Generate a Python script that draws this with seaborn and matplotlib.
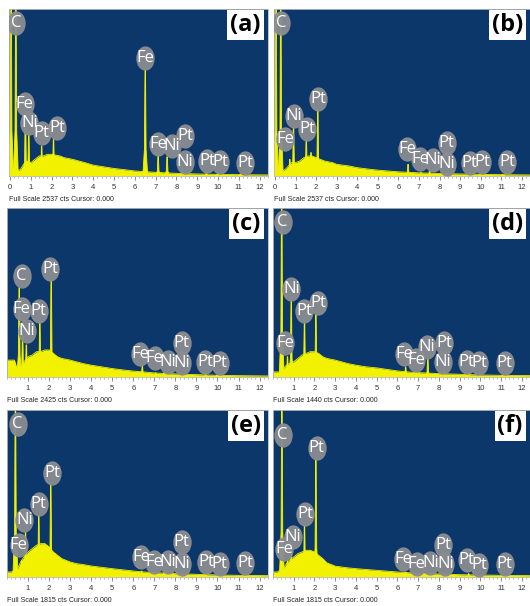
import numpy as np
import pandas as pd
import matplotlib
matplotlib.use("Agg")
import matplotlib.pyplot as plt
import seaborn as sns
from matplotlib.path import Path

# background continuum sampled along the energy axis (keV), % of full scale
bg_kev = [0.0, 0.2, 0.35, 0.5, 0.65, 0.8, 1.0, 1.2, 1.4, 1.6, 1.8, 2.0, 2.2, 2.4, 2.6,
          2.8, 3.0, 3.3, 3.6, 4.0, 4.5, 5.0, 5.5, 6.0, 6.5, 7.0, 8.0, 9.0, 10.0, 11.0, 12.5]
a_bg = [2, 3, 3, 4, 7, 9, 8, 10, 12, 12, 13, 13, 12.5, 12, 11, 10.5, 10, 9, 8, 6.5, 5.5,
        4.5, 3.8, 3, 2.6, 2.2, 1.6, 1.2, 1.0, 0.8, 0.6]
b_bg = [2, 3, 3, 4, 6, 8, 8, 9, 11, 12, 12, 11, 10, 9, 8.5, 8, 7, 6.5, 6, 5, 4.2,
        3.5, 3, 2.5, 2.2, 1.9, 1.5, 1.2, 1.0, 0.8, 0.6]
c_bg = [10, 10, 10, 4, 6, 9, 12, 13, 15, 15, 16, 16, 14, 12, 11, 10.5, 10, 9, 8, 7, 6,
        5, 4.2, 3.5, 3, 2.4, 1.8, 1.4, 1.0, 0.8, 0.6]
d_bg = [3, 3, 3, 5, 7, 8, 9, 11, 13, 14, 15, 15, 14, 12, 11, 10.5, 10, 9, 8, 7, 6,
        5.4, 4.5, 3.6, 3, 2.6, 2, 1.6, 1.2, 1.0, 0.8]
e_bg = [3, 3, 4, 5, 9, 12, 15, 17, 19, 20, 20, 18, 15, 13, 11, 10, 9, 8, 7.5, 6.6, 5.8,
        5, 4.3, 3.6, 3, 2.6, 2, 1.6, 1.2, 1.0, 0.8]
f_bg = [3, 3, 4, 5, 8, 10, 12, 14, 15, 16, 16, 15, 13, 11, 8.5, 7.5, 6.5, 6, 5.5, 5, 4.5,
        4, 3.5, 3, 2.6, 2.2, 1.8, 1.4, 1.2, 1.0, 0.8]

# peaks: energy (keV) and height (% of full scale)
a_pk_kev = [0.05, 0.28, 0.74, 0.90, 1.52, 2.09, 6.50, 7.12, 7.55, 8.30, 9.44, 9.98, 11.07]
a_pk = [110, 110, 37, 27, 18, 22, 64, 12, 11.5, 3, 2, 1.5, 1.2]
b_pk_kev = [0.05, 0.28, 0.72, 0.90, 1.52, 1.75, 2.08, 6.47, 7.10, 7.52, 8.30, 9.44, 9.98, 11.07]
b_pk = [110, 110, 10, 29, 22, 14, 40, 7, 2, 3.5, 1.5, 1.5, 1.2, 1]
c_pk_kev = [0.58, 0.74, 0.92, 1.56, 2.10, 6.43, 7.06, 7.47, 8.26, 9.44, 9.98]
c_pk = [53, 25, 19, 33, 57, 6.5, 2.5, 3, 1.8, 1.5, 1.2]
d_pk_kev = [0.42, 0.70, 0.88, 1.52, 2.07, 6.40, 7.06, 7.47, 8.26, 9.44, 9.98, 11.07]
d_pk = [110, 12, 45, 33, 37, 6, 2.2, 11, 3.5, 1.6, 1.2, 1]
e_pk_kev = [0.40, 0.70, 0.88, 1.51, 2.08, 6.40, 7.47, 9.44]
e_pk = [110, 10, 27, 37, 56, 3.5, 3, 1.5]
f_pk_kev = [0.43, 0.70, 0.88, 1.52, 2.07, 6.40, 7.47, 9.44]
f_pk = [110, 10, 15, 31, 70, 3, 2, 2]

# element tags: name, energy, height of tag centre (% of full scale)
a_tags = [("C", 0.28, 91.5), ("Fe", 0.70, 43), ("Ni", 0.93, 32), ("Pt", 1.52, 26),
          ("Pt", 2.25, 29), ("Fe", 6.50, 70.5), ("Fe", 7.13, 19), ("Ni", 7.78, 18),
          ("Pt", 8.42, 24), ("Ni", 8.40, 8.5), ("Pt", 9.46, 9), ("Pt", 10.1, 8.5),
          ("Pt", 11.3, 8)]
b_tags = [("C", 0.28, 91.5), ("Fe", 0.50, 22), ("Ni", 0.93, 36), ("Pt", 1.55, 28),
          ("Pt", 2.09, 46), ("Fe", 6.43, 16), ("Fe", 7.05, 10), ("Ni", 7.67, 9.5),
          ("Pt", 8.34, 20), ("Ni", 8.37, 7), ("Pt", 9.46, 8), ("Pt", 10.08, 8.3),
          ("Pt", 11.3, 8.5)]
c_tags = [("C", 0.69, 60), ("Fe", 0.69, 40), ("Ni", 0.93, 27), ("Pt", 1.51, 39),
          ("Pt", 2.05, 64), ("Fe", 6.33, 13.5), ("Fe", 7.02, 11), ("Ni", 7.64, 9),
          ("Ni", 8.30, 8), ("Pt", 8.30, 20), ("Pt", 9.41, 9), ("Pt", 10.1, 8.5)]
d_tags = [("C", 0.47, 91.5), ("Ni", 0.88, 52), ("Pt", 1.49, 39), ("Pt", 2.17, 44),
          ("Fe", 0.57, 20), ("Fe", 6.34, 13.5), ("Fe", 6.90, 10), ("Ni", 7.43, 18),
          ("Pt", 8.27, 20), ("Ni", 8.19, 9), ("Pt", 9.34, 9), ("Pt", 9.95, 8.5),
          ("Pt", 11.17, 8)]
e_tags = [("C", 0.50, 91.5), ("Ni", 0.82, 34), ("Fe", 0.55, 19), ("Pt", 1.51, 44),
          ("Pt", 2.13, 62), ("Fe", 6.37, 12), ("Fe", 6.99, 9), ("Ni", 7.65, 9),
          ("Ni", 8.30, 7.6), ("Pt", 8.30, 21), ("Pt", 9.46, 9), ("Pt", 10.1, 8),
          ("Pt", 11.3, 8.5)]
f_tags = [("C", 0.47, 85), ("Pt", 2.10, 77), ("Pt", 1.56, 38), ("Ni", 0.95, 24),
          ("Fe", 0.54, 16.5), ("Fe", 6.29, 11), ("Fe", 6.93, 8), ("Ni", 7.59, 8.4),
          ("Pt", 8.20, 19), ("Ni", 8.32, 8), ("Pt", 9.34, 10), ("Pt", 9.95, 7),
          ("Pt", 11.17, 8)]

full_scale = [2537, 2537, 2425, 1440, 1815, 1815]
panel_names = ["(a)", "(b)", "(c)", "(d)", "(e)", "(f)"]

sns.set_theme(style="white")
plt.rcParams["font.family"] = ["Open Sans", "DejaVu Sans"]

BG = "#0b376b"
YEL = "#f2f200"

W, H = 530, 606
fig = plt.figure(figsize=(W / 100, H / 100), dpi=100)

# axes boxes in pixels: x0, x1, y0, y1 and energy limits
boxes = [
    (9, 268, 9, 176, -0.05, 11.97),
    (274, 530, 9, 176, -0.05, 11.83),
    (7, 268, 208, 377, 0.29, 12.37),
    (273, 530, 208, 377, 0.35, 12.08),
    (7, 268, 410, 577, 0.29, 12.37),
    (273, 530, 410, 577, 0.35, 12.08),
]
bgs = [a_bg, b_bg, c_bg, d_bg, e_bg, f_bg]
pk_kevs = [a_pk_kev, b_pk_kev, c_pk_kev, d_pk_kev, e_pk_kev, f_pk_kev]
pks = [a_pk, b_pk, c_pk, d_pk, e_pk, f_pk]
tags = [a_tags, b_tags, c_tags, d_tags, e_tags, f_tags]

# elliptical tag marker, a bit taller than wide
circ = Path.unit_circle()
ell = Path(circ.vertices * np.array([1.0, 1.35]), circ.codes)

# peak outline: (half width in keV, fraction of height)
shape_dx = [-0.12, -0.04, -0.012, 0.012, 0.04, 0.12]
shape_fy = [0.0, 0.25, 1.0, 1.0, 0.25, 0.0]

for i in range(6):
    x0, x1, y0, y1, lo, hi = boxes[i]
    ax = fig.add_axes([x0 / W, 1 - y1 / H, (x1 - x0) / W, (y1 - y0) / H])
    ax.set_facecolor(BG)

    df = pd.DataFrame({"kev": bg_kev, "pct": bgs[i]})
    sns.lineplot(data=df, x="kev", y="pct", ax=ax, color=YEL, lw=0.6)
    ax.fill_between(df["kev"], 0, df["pct"], color=YEL, lw=0)

    for e, h in zip(pk_kevs[i], pks[i]):
        ax.fill([e + dx for dx in shape_dx], [h * fy for fy in shape_fy],
                color=YEL, lw=0.6, ec=YEL)

    for name, e, h in tags[i]:
        ax.plot([e], [h], marker=ell, ms=16.5, color="#8a8c91", alpha=0.95,
                ls="none", zorder=4)
        ax.text(e, h, name, color="white", fontsize=12, ha="center", va="center",
                zorder=5, clip_on=True)

    ax.text(0.972, 0.975, panel_names[i], transform=ax.transAxes, ha="right", va="top",
            fontsize=17, fontweight="bold", color="black", zorder=6,
            bbox=dict(boxstyle="square,pad=0.12", fc="white", ec="none"))

    ax.set_xlim(lo, hi)
    ax.set_ylim(0, 100)
    ax.set_yticks([])
    ax.set_xlabel("")
    ax.set_ylabel("")
    start = 0 if i < 2 else 1
    ax.set_xticks(range(start, 13))
    ax.set_xticks(np.arange(0, 12.6, 0.2), minor=True)
    ax.tick_params(axis="x", which="major", direction="out", length=3, width=0.6,
                   color="#777777", labelsize=5.5, labelcolor="#333333", pad=3,
                   bottom=True)
    ax.tick_params(axis="x", which="minor", direction="out", length=1.5, width=0.5,
                   color="#999999", bottom=True)
    for lab in ax.get_xticklabels():
        lab.set_family(["Liberation Sans Narrow", "Liberation Sans", "DejaVu Sans"])
    for s in ax.spines.values():
        s.set_color("#bbbbbb")
        s.set_linewidth(0.6)

    ax.text(0.0, -0.14, f"Full Scale {full_scale[i]} cts Cursor: 0.000",
            transform=ax.transAxes, ha="left", va="center", fontsize=5,
            color="#222222", family=["Liberation Sans Narrow", "Liberation Sans", "DejaVu Sans"])

fig.savefig("out.png", dpi=100, facecolor="white")
